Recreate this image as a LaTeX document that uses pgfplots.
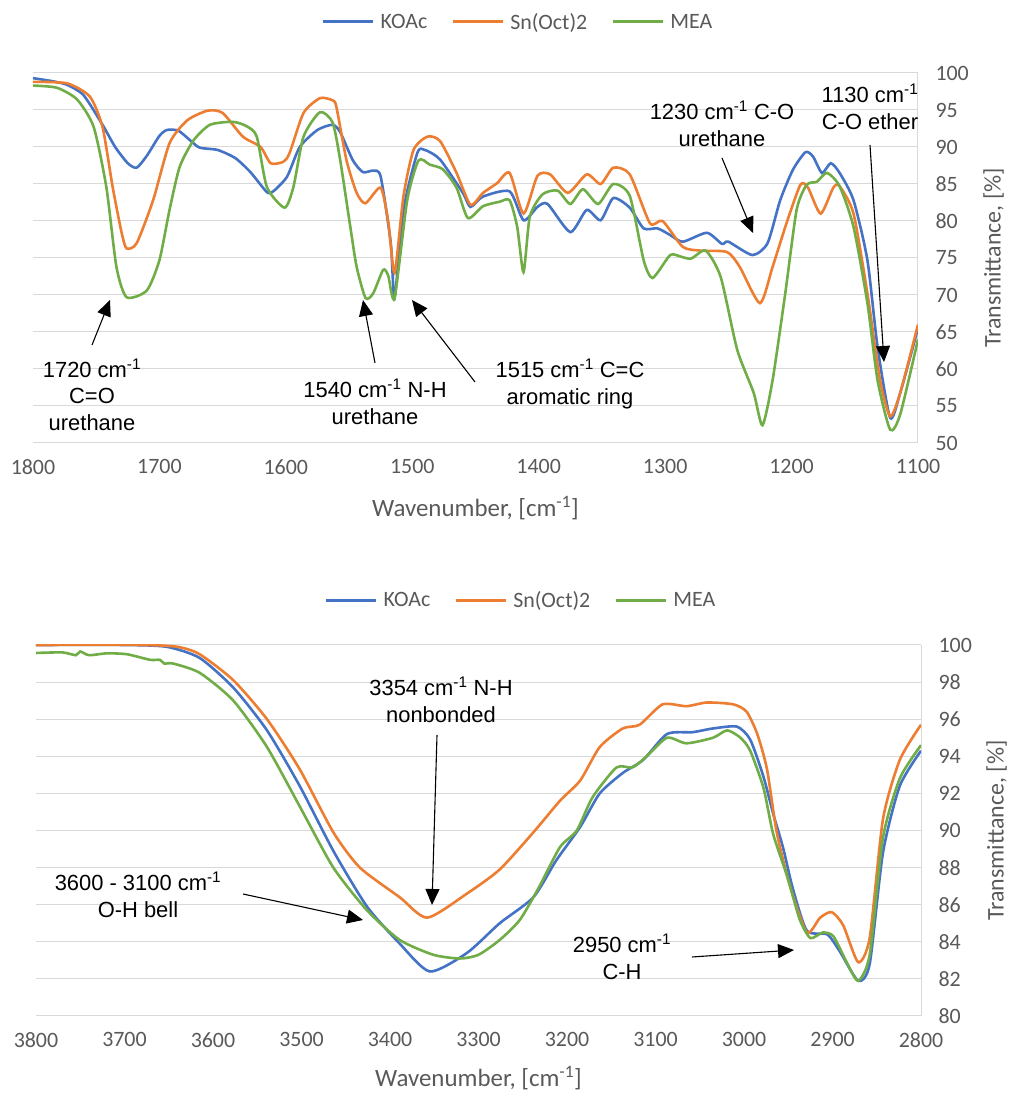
\documentclass[border=0pt]{standalone}
\usepackage{fontspec}
\setmainfont{Carlito}
\newfontfamily\arialfont{Liberation Sans}
\usepackage{pgfplots}
\pgfplotsset{compat=1.18}
\usetikzlibrary{arrows.meta}
\definecolor{cblue}{HTML}{4472C4}
\definecolor{corange}{HTML}{ED7D31}
\definecolor{cgreen}{HTML}{70AD47}
\definecolor{tgray}{HTML}{595959}
\definecolor{ggray}{HTML}{D9D9D9}
\pgfplotsset{
  myax/.style={
    scale only axis, width=885bp,
    x dir=reverse,
    axis x line*=bottom, axis y line*=right,
    axis line style={-, draw=ggray, line width=1bp},
    ymajorgrids, grid style={ggray, line width=1bp},
    major tick length=0pt,
    tick label style={font=\fontsize{22}{26}\selectfont, text=tgray},
    /pgf/number format/assume math mode=true,
    /pgf/number format/set thousands separator={},
    xticklabel style={yshift=-13bp},
    yticklabel style={xshift=14bp},
    legend style={draw=none, fill=none, font=\fontsize{22}{26}\selectfont, text=tgray, anchor=center,
      legend columns=3, /tikz/every even column/.append style={column sep=22bp},
      /tikz/every odd column/.append style={column sep=4bp}},
    legend image code/.code={\draw[##1, line width=3bp] (0bp,0bp) -- (50bp,0bp);},
    no markers,
    every axis plot/.append style={line width=2.6bp, smooth, tension=0.4},
  },
}
\tikzset{arr/.style={-{Triangle[length=16bp,width=14bp]}, line width=1.1bp, black},
  annot/.style={font=\arialfont\fontsize{22}{27}\selectfont, align=center, text=black}}
\begin{document}
\begin{tikzpicture}[x=1bp,y=1bp]
\path[use as bounding box] (0,0) rectangle (1010,1093);
% ---------------- top panel ----------------
\begin{axis}[myax, at={(33bp,650bp)}, anchor=south west, height=370bp,
  xmin=1100, xmax=1800, ymin=50, ymax=100,
  xtick={1100,1200,...,1800}, ytick={50,55,...,100},
  xlabel={Wavenumber, [cm\textsuperscript{-1}]},
  ylabel={Transmittance, [\%]},
  every axis x label/.style={at={(axis description cs:0.5,-0.176)}, anchor=center, font=\fontsize{25}{28}\selectfont, text=tgray},
  every axis y label/.style={at={(axis description cs:1.0855,0.5)}, anchor=center, rotate=90, inner sep=0pt, font=\fontsize{24}{28}\selectfont, text=tgray},
  legend style={at={(axis description cs:0.548,1.138)}},
]
\addplot[cblue] coordinates {
(1800,99.3)(1785,98.9)(1773,98.4)(1760,97.0)(1745,93.0)(1735,90.0)(1725,87.8)(1718,87.2)(1710,88.8)(1700,91.5)(1694,92.3)(1685,92.2)(1675,90.8)(1668,89.9)(1654,89.6)(1640,88.5)(1628,86.6)(1615,83.9)(1610,84.0)(1599,86.0)(1589,90.0)(1575,92.3)(1563,93.0)(1557,92.0)(1547,88.2)(1539,86.6)(1531,86.8)(1525,86.0)(1517,77.0)(1514,69.6)(1507,81.5)(1496,89.2)(1490,89.6)(1478,88.3)(1460,83.8)(1454,81.9)(1444,83.3)(1423,84.0)(1412,80.1)(1401,81.9)(1393,82.3)(1375,78.5)(1362,81.5)(1351,80.1)(1341,83.1)(1328,81.8)(1317,79.0)(1306,79.0)(1296,78.1)(1286,77.2)(1267,78.4)(1255,76.9)(1250,77.2)(1231,75.4)(1219,77.0)(1209,82.8)(1199,86.9)(1189,89.3)(1183,88.7)(1176,86.5)(1169,87.8)(1162,86.5)(1151,82.8)(1140,74.7)(1132,63.0)(1122,53.4)(1114,56.8)(1100,65.5)};
\addlegendentry{KOAc}
\addplot[corange] coordinates {
(1800,98.8)(1773,98.6)(1755,96.8)(1745,92.7)(1737,84.6)(1730,78.5)(1726,76.3)(1718,77.0)(1705,82.8)(1692,90.5)(1678,93.6)(1662,94.9)(1650,94.6)(1634,91.4)(1620,90.0)(1612,87.8)(1602,88.0)(1597,89.2)(1586,94.6)(1573,96.6)(1563,96.3)(1560,95.4)(1552,88.2)(1544,83.8)(1537,82.4)(1525,84.5)(1519,79.9)(1514,73.0)(1507,83.3)(1499,89.6)(1488,91.4)(1478,90.8)(1465,86.5)(1454,82.2)(1444,83.8)(1433,85.1)(1423,86.5)(1412,81.0)(1401,86.1)(1391,86.3)(1377,83.8)(1362,86.3)(1351,85.0)(1341,87.2)(1328,86.3)(1312,79.7)(1302,80.0)(1286,76.5)(1272,76.0)(1251,75.8)(1241,73.8)(1225,68.9)(1215,73.8)(1204,79.7)(1193,84.9)(1187,84.5)(1177,81.0)(1167,84.5)(1162,84.7)(1151,81.0)(1140,70.2)(1130,58.5)(1122,53.6)(1114,56.8)(1100,66.0)};
\addlegendentry{Sn(Oct)2}
\addplot[cgreen] coordinates {
(1800,98.3)(1781,98.0)(1765,96.4)(1752,92.7)(1742,84.6)(1734,73.8)(1726,69.7)(1710,70.6)(1700,74.7)(1692,81.5)(1684,87.3)(1673,90.9)(1660,93.0)(1642,93.4)(1631,92.8)(1623,91.4)(1615,84.6)(1601,81.8)(1594,84.6)(1586,91.4)(1573,94.7)(1563,93.3)(1557,88.2)(1549,79.2)(1544,73.8)(1537,69.6)(1531,70.2)(1523,73.4)(1519,72.6)(1514,69.6)(1504,82.8)(1495,88.2)(1486,87.6)(1476,87.0)(1465,84.5)(1456,80.4)(1444,82.0)(1431,82.6)(1423,82.8)(1417,79.2)(1412,73.1)(1407,80.6)(1397,83.6)(1385,84.1)(1375,82.3)(1365,84.3)(1353,82.3)(1341,85.0)(1328,83.4)(1317,74.7)(1310,72.3)(1298,75.0)(1294,75.5)(1280,74.9)(1268,76.0)(1256,72.4)(1243,62.6)(1230,56.8)(1223,52.4)(1215,58.5)(1205,70.2)(1196,81.5)(1188,84.9)(1180,85.3)(1172,86.5)(1162,84.7)(1151,79.2)(1140,68.9)(1132,58.5)(1122,51.8)(1114,53.9)(1100,64.0)};
\addlegendentry{MEA}
\end{axis}
% annotations top
\node[annot] at (92,698) {1720 cm\textsuperscript{-1}\\C=O\\urethane};
\draw[arr] (92,748) -- (110,793);
\node[annot] at (375,691) {1540 cm\textsuperscript{-1} N-H\\urethane};
\draw[arr] (375,730) -- (363,793);
\node[annot] at (570,709) {1515 cm\textsuperscript{-1} C=C\\aromatic ring};
\draw[arr] (475,711) -- (412,793);
\node[annot] at (722,969) {1230 cm\textsuperscript{-1} C-O\\urethane};
\draw[arr] (722,935) -- (753,860);
\node[annot] at (870,986) {1130 cm\textsuperscript{-1}\\C-O ether};
\draw[arr] (870,948) -- (884,731);
% ---------------- bottom panel ----------------
\begin{axis}[myax, at={(36bp,77bp)}, anchor=south west, height=371bp,
  xmin=2800, xmax=3800, ymin=80, ymax=100,
  xtick={2800,2900,...,3800}, ytick={80,82,...,100},
  xlabel={Wavenumber, [cm\textsuperscript{-1}]},
  ylabel={Transmittance, [\%]},
  every axis x label/.style={at={(axis description cs:0.5,-0.167)}, anchor=center, font=\fontsize{25}{28}\selectfont, text=tgray},
  every axis y label/.style={at={(axis description cs:1.0855,0.5)}, anchor=center, rotate=90, inner sep=0pt, font=\fontsize{24}{28}\selectfont, text=tgray},
  legend style={at={(axis description cs:0.548,1.121)}},
]
\addplot[cblue] coordinates {
(3800,100.0)(3700,100.0)(3652,99.9)(3615,99.3)(3577,97.7)(3539,95.4)(3502,92.4)(3464,88.9)(3426,85.9)(3389,83.9)(3355,82.4)(3313,83.4)(3276,85.0)(3238,86.4)(3212,88.4)(3185,90.2)(3163,92.0)(3137,93.1)(3114,93.8)(3087,95.2)(3058,95.3)(3035,95.5)(3008,95.6)(2993,94.9)(2978,92.9)(2967,90.9)(2956,89.1)(2945,86.9)(2929,84.6)(2906,84.4)(2892,83.5)(2871,81.9)(2858,82.8)(2843,88.8)(2824,92.4)(2800,94.3)};
\addlegendentry{KOAc}
\addplot[corange] coordinates {
(3800,100.0)(3680,100.0)(3640,99.9)(3615,99.5)(3577,98.1)(3539,96.0)(3502,93.3)(3464,89.9)(3434,88.0)(3389,86.4)(3358,85.3)(3313,86.6)(3276,87.9)(3238,89.9)(3208,91.6)(3185,92.7)(3163,94.5)(3137,95.5)(3118,95.7)(3092,96.8)(3065,96.7)(3042,96.9)(3012,96.8)(2997,96.4)(2985,95.2)(2974,93.3)(2963,89.9)(2948,87.0)(2929,84.5)(2914,85.3)(2901,85.6)(2888,84.9)(2871,82.9)(2858,84.2)(2843,90.6)(2824,93.8)(2800,95.7)};
\addlegendentry{Sn(Oct)2}
\addplot[cgreen] coordinates {
(3800,99.57)(3770,99.6)(3755,99.45)(3750,99.65)(3740,99.45)(3720,99.55)(3697,99.5)(3671,99.2)(3660,99.2)(3655,99.0)(3645,99.0)(3615,98.5)(3577,97.0)(3539,94.5)(3502,91.3)(3464,88.0)(3426,85.7)(3389,84.1)(3351,83.3)(3321,83.1)(3300,83.3)(3276,84.1)(3253,85.2)(3231,87.0)(3208,89.1)(3189,90.0)(3171,91.8)(3144,93.4)(3126,93.4)(3110,94.0)(3087,95.0)(3065,94.7)(3035,95.0)(3019,95.4)(3004,95.0)(2993,94.3)(2978,92.3)(2967,89.8)(2951,87.5)(2937,85.2)(2925,84.2)(2911,84.5)(2899,84.3)(2884,82.9)(2871,81.9)(2858,83.3)(2843,89.6)(2824,92.8)(2800,94.6)};
\addlegendentry{MEA}
\end{axis}
% annotations bottom
\node[annot] at (441,393) {3354 cm\textsuperscript{-1} N-H\\nonbonded};
\draw[arr] (437,358) -- (432,188);
\node[annot] at (138,198) {3600 - 3100 cm\textsuperscript{-1}\\O-H bell};
\draw[arr] (243,199) -- (363,173);
\node[annot] at (622,136) {2950 cm\textsuperscript{-1}\\C-H};
\draw[arr] (692,136) -- (794,143);
\end{tikzpicture}
\end{document}
